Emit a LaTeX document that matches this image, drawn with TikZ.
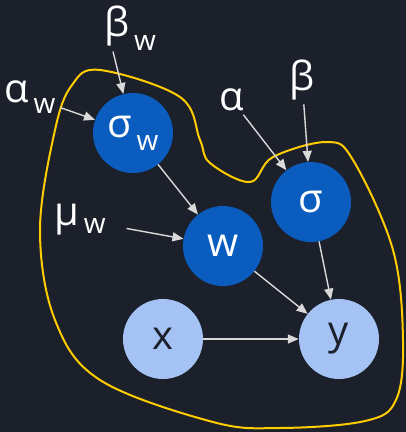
\documentclass[tikz,border=0pt]{standalone}
\usepackage{fontspec}
\setmainfont{Open Sans}
\usetikzlibrary{arrows.meta}
\definecolor{bg}{HTML}{1B202B}
\definecolor{dblue}{HTML}{0A5CBE}
\definecolor{lblue}{HTML}{A4C2F4}
\definecolor{plate}{HTML}{FFCC00}
\definecolor{arr}{HTML}{D9D9D9}
\definecolor{dtext}{HTML}{1B202B}
\newcommand{\subw}[1]{\raisebox{#1}{\fontsize{28}{28}\selectfont\,w}}
\tikzset{
  dnode/.style={circle, fill=dblue, minimum size=80pt, inner sep=0pt, text=white, font=\fontsize{40}{40}\selectfont},
  lnode/.style={circle, fill=lblue, minimum size=80pt, inner sep=0pt, text=dtext, font=\fontsize{40}{40}\selectfont},
  lab/.style={text=white, inner sep=1pt, font=\fontsize{40}{40}\selectfont},
  con/.style={draw=arr, line width=1.4pt, -{Triangle[length=11pt,width=9pt]}},
}
\begin{document}
\begin{tikzpicture}[x=1pt,y=-1pt]
\fill[bg] (0,0) rectangle (406,432);
\useasboundingbox (0,0) rectangle (406,432);
\draw[plate, line width=2pt] plot[smooth cycle, tension=0.6] coordinates {
 (100,70) (180,97) (200,140) (210,163) (250,182) (273,157) (327,142) (353,160)
 (393,250) (403,340) (396,400) (365,421) (280,428) (213,422) (100,380) (55,320)
 (40,230) (55,130) (72,85)};
\node[dnode] (sw) at (133,133) {σ\subw{-13pt}};
\node[dnode] (s) at (311,202) {σ};
\node[dnode] (w) at (223,246) {w};
\node[lnode] (x) at (163,339) {x};
\node[lnode] (y) at (339,339) {y};
\node[lab] (bw) at (130,28) {β\subw{-14pt}};
\node[lab] (aw) at (30,97) {α\subw{-11pt}};
\node[lab] (a) at (232,100) {α};
\node[lab] (b) at (302,80) {β};
\node[lab] (mw) at (80,220) {μ\subw{-8pt}};
\draw[con] (bw.south west) ++(10,0) coordinate (bws) -- (sw);
\draw[con, shorten <=4pt] (aw) -- (sw);
\draw[con] (sw) -- (w);
\draw[con, shorten <=3pt] (a) -- (s);
\draw[con, shorten <=3pt] (b) -- (s);
\draw[con, shorten <=20pt] (mw) -- (w);
\draw[con] (w) -- (y);
\draw[con] (s) -- (y);
\draw[con] (x) -- (y);
\end{tikzpicture}
\end{document}
